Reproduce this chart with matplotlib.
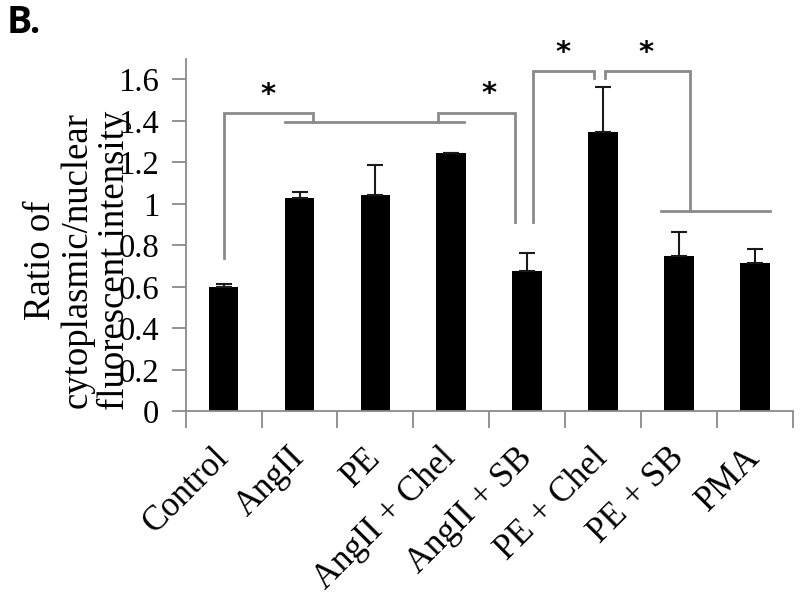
import matplotlib
matplotlib.use("Agg")
import matplotlib.pyplot as plt
import numpy as np

categories = ["Control", "AngII", "PE", "AngII + Chel", "AngII + SB",
              "PE + Chel", "PE + SB", "PMA"]
values = [0.60, 1.03, 1.042, 1.245, 0.678, 1.347, 0.747, 0.717]
errors = [0.012, 0.027, 0.145, 0.0, 0.086, 0.217, 0.117, 0.063]
yticks = [0, 0.2, 0.4, 0.6, 0.8, 1.0, 1.2, 1.4, 1.6]
ytick_labels = ["0", "0.2", "0.4", "0.6", "0.8", "1", "1.2", "1.4", "1.6"]
ylabel_lines = ["Ratio of", "cytoplasmic/nuclear", "fluorescent intensity"]

# significance brackets (data coordinates: x in category units, y in ratio)
brackets = [
    [(0.5, 0.739), (0.5, 1.436), (1.68, 1.436), (1.68, 1.396)],
    [(1.31, 1.396), (3.67, 1.396)],
    [(3.32, 1.396), (3.32, 1.436), (4.34, 1.436), (4.34, 0.912)],
    [(4.58, 0.912), (4.58, 1.641), (5.38, 1.641), (5.38, 1.606)],
    [(5.53, 1.606), (5.53, 1.641), (6.65, 1.641), (6.65, 0.967)],
    [(6.27, 0.967), (7.70, 0.967)],
]
stars = [(1.08, 1.525), (4.0, 1.528), (4.97, 1.729), (6.07, 1.729)]

serif = "Liberation Serif"
gray = "#8a8a8a"

fig = plt.figure(figsize=(8, 5.96), dpi=100)
ax = fig.add_axes([0.2321, 0.3099, 0.9909 - 0.2321, 0.9018 - 0.3099])

x = np.arange(len(categories)) + 0.5
ax.bar(x, values, width=0.39, color="black", zorder=2)
ax.errorbar(x, values, yerr=[np.zeros(len(errors)), errors], fmt="none",
            ecolor="#1a1a1a", elinewidth=1.5, capsize=6, capthick=1.5, zorder=3)

ax.set_xlim(0, len(categories))
ax.set_ylim(0, 1.7)

for spine in ["top", "right"]:
    ax.spines[spine].set_visible(False)
for spine in ["left", "bottom"]:
    ax.spines[spine].set_color(gray)
    ax.spines[spine].set_linewidth(1.3)

ax.set_yticks(yticks)
ax.set_yticklabels(ytick_labels, fontfamily=serif, fontsize=23.5)
ax.tick_params(axis="y", direction="out", length=10, width=1.3, color=gray,
               pad=9, labelcolor="black")

ax.set_xticks(np.arange(len(categories) + 1))
ax.set_xticklabels([])
ax.tick_params(axis="x", which="major", direction="out", length=12, width=1.3,
               color=gray)
ax.set_xticks(x, minor=True)
ax.set_xticklabels(categories, minor=True, rotation=45, ha="right",
                   rotation_mode="anchor", fontfamily=serif, fontsize=25)
ax.tick_params(axis="x", which="minor", length=0, pad=30)
for lbl in ax.get_xticklabels(minor=True):
    lbl.set_verticalalignment("center")

for br in brackets:
    bx, by = zip(*br)
    ax.plot(bx, by, color=gray, lw=2, solid_joinstyle="miter", clip_on=False,
            zorder=4)
for sx, sy in stars:
    ax.text(sx, sy, "*", ha="center", va="center", fontsize=21,
            fontweight="bold", family="DejaVu Sans", clip_on=False)

# y-axis title: three lines, baselines at fixed pixel columns
for line, bx in zip(ylabel_lines, [49.5, 86.5, 123.5]):
    fig.text(bx / 800, 1 - 260 / 596, line, rotation=90, ha="center",
             va="baseline", rotation_mode="anchor", fontfamily=serif,
             fontsize=26.5)

fig.text(7 / 800, 1 - 33 / 596, "B.", fontsize=27, fontweight="bold",
         family="Open Sans", ha="left", va="baseline")

fig.savefig("out.png", dpi=100)
